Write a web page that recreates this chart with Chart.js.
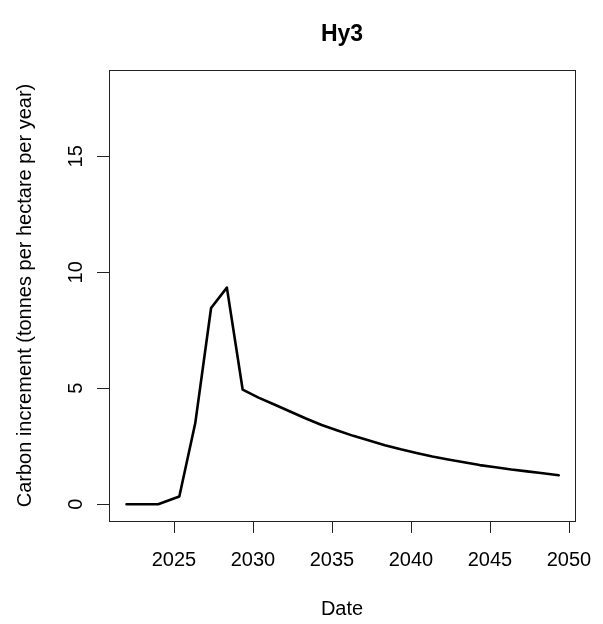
<!DOCTYPE html>
<html>
<head>
<meta charset="utf-8">
<title>Hy3</title>
<script src="https://cdn.jsdelivr.net/npm/chart.js@4/dist/chart.umd.min.js"></script>
<style>
  html, body { margin: 0; padding: 0; background: #fff; }
  #wrap { width: 603px; height: 624px; }
</style>
</head>
<body>
<div id="wrap"><canvas id="lineChart" width="603" height="624"></canvas></div>
<script>
// carbon increment per year, Hy3 scenario
const years = [2022, 2023, 2024, 2025.34, 2026.35, 2027.35, 2028.35, 2029.35,
  2030.35, 2031.35, 2032.35, 2033.35, 2034.35, 2035.35, 2036.35, 2037.35,
  2038.35, 2039.35, 2040.35, 2041.35, 2042.35, 2043.35, 2044.35, 2045.35,
  2046.35, 2047.35, 2048.35, 2049.35];
const increment = [0, 0, 0, 0.34, 3.5, 8.46, 9.34, 4.94,
  4.6, 4.3, 4.0, 3.7, 3.42, 3.18, 2.95, 2.75,
  2.55, 2.37, 2.21, 2.06, 1.93, 1.81, 1.69, 1.6,
  1.5, 1.42, 1.34, 1.25];
const xTicks = [2025, 2030, 2035, 2040, 2045, 2050];
const yTicks = [0, 5, 10, 15];

const FONT = '"Liberation Sans", Arial, sans-serif';
const TICK_LEN = 12;

// base-graphics style frame: box, outward ticks, rotated y labels, titles
const framePlugin = {
  id: 'frame',
  afterDraw(chart) {
    const ctx = chart.ctx;
    const area = chart.chartArea;
    const xs = chart.scales.x;
    const ys = chart.scales.y;
    ctx.save();
    ctx.strokeStyle = '#222';
    ctx.lineWidth = 1;
    ctx.strokeRect(Math.round(area.left) + 0.5, Math.round(area.top) + 0.5,
      Math.round(area.right - area.left), Math.round(area.bottom - area.top));

    ctx.fillStyle = '#000';
    ctx.font = '20px ' + FONT;

    // x axis
    ctx.textAlign = 'center';
    ctx.textBaseline = 'alphabetic';
    ctx.beginPath();
    xTicks.forEach((t) => {
      const px = Math.round(xs.getPixelForValue(t)) + 0.5;
      ctx.moveTo(px, area.bottom);
      ctx.lineTo(px, area.bottom + TICK_LEN);
    });
    ctx.stroke();
    xTicks.forEach((t) => {
      ctx.fillText(String(t), xs.getPixelForValue(t), area.bottom + 45);
    });

    // y axis
    ctx.beginPath();
    yTicks.forEach((t) => {
      const py = Math.round(ys.getPixelForValue(t)) + 0.5;
      ctx.moveTo(area.left, py);
      ctx.lineTo(area.left - TICK_LEN, py);
    });
    ctx.stroke();
    yTicks.forEach((t) => {
      ctx.save();
      ctx.translate(area.left - 27, ys.getPixelForValue(t));
      ctx.rotate(-Math.PI / 2);
      ctx.fillText(String(t), 0, 0);
      ctx.restore();
    });

    // axis titles
    const midX = (area.left + area.right) / 2;
    const midY = (area.top + area.bottom) / 2;
    ctx.fillText('Date', midX, 615);
    ctx.save();
    ctx.translate(31, midY);
    ctx.rotate(-Math.PI / 2);
    ctx.fillText('Carbon increment (tonnes per hectare per year)', 0, 0);
    ctx.restore();

    // main title, centred in the top margin
    ctx.font = 'bold 23px ' + FONT;
    ctx.textBaseline = 'middle';
    ctx.fillText('Hy3', midX, 35);
    ctx.restore();
  }
};

const points = years.map((y, i) => ({ x: y, y: increment[i] }));

new Chart(document.getElementById('lineChart'), {
  type: 'scatter',
  data: {
    datasets: [{
      label: 'Hy3',
      data: points,
      showLine: true,
      borderColor: '#000',
      borderWidth: 2.6,
      borderJoinStyle: 'round',
      borderCapStyle: 'round',
      pointRadius: 0,
      fill: false
    }]
  },
  options: {
    responsive: false,
    devicePixelRatio: 1,
    animation: false,
    layout: { padding: { left: 109, right: 28, top: 70, bottom: 103 } },
    plugins: {
      legend: { display: false },
      tooltip: { enabled: false },
      title: { display: false }
    },
    scales: {
      x: { type: 'linear', min: 2020.89, max: 2050.38, display: false },
      y: { type: 'linear', min: -0.72, max: 18.72, display: false }
    }
  },
  plugins: [framePlugin]
});
</script>
</body>
</html>
